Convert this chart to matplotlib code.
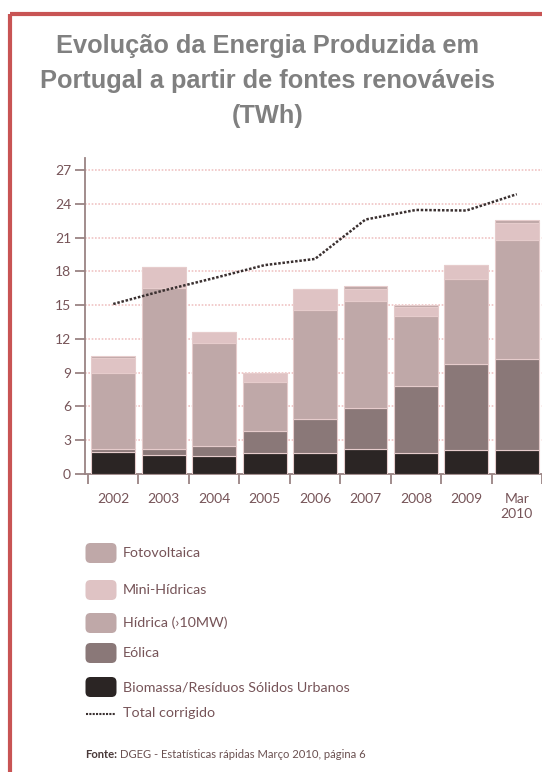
import matplotlib
matplotlib.use('Agg')
import matplotlib.pyplot as plt
import numpy as np
from matplotlib.patches import FancyBboxPatch, Rectangle

# data (TWh)
anos = ['2002', '2003', '2004', '2005', '2006', '2007', '2008', '2009', 'Mar\n2010']
biomassa = [1.95, 1.70, 1.60, 1.90, 1.90, 2.20, 1.90, 2.15, 2.15]
eolica = [0.25, 0.50, 0.90, 1.95, 3.00, 3.70, 5.90, 7.60, 8.05]
hidrica = [6.75, 14.35, 9.10, 4.30, 9.65, 9.45, 6.25, 7.55, 10.55]
mini_hidricas = [1.35, 1.80, 1.05, 0.80, 1.85, 1.05, 0.80, 1.25, 1.55]
fotovoltaica = [0.15, 0.00, 0.00, 0.00, 0.00, 0.30, 0.20, 0.05, 0.30]
total_corrigido = [15.1, 16.3, 17.4, 18.55, 19.1, 22.6, 23.45, 23.4, 24.85]
yticks = [0, 3, 6, 9, 12, 15, 18, 21, 24, 27]

cores = {
    'Fotovoltaica': '#bfa8a8',
    'Mini-Hídricas': '#dfc3c4',
    'Hídrica (>10MW)': '#bfa8a8',
    'Eólica': '#8a7878',
    'Biomassa/Resíduos Sólidos Urbanos': '#2b2524',
}
txt_color = '#765458'
axis_color = '#9a8484'

W, H = 542, 772
fig = plt.figure(figsize=(W / 100, H / 100), dpi=100)

# background layer in pixel coords (frame, legend, footer)
bg = fig.add_axes([0, 0, 1, 1])
bg.set_xlim(0, W)
bg.set_ylim(H, 0)
bg.axis('off')
bg.add_patch(Rectangle((10, 14), W + 20, H + 20, fill=False, ec='#c85454', lw=3))

# title
for i, t in enumerate(['Evolução da Energia Produzida em',
                       'Portugal a partir de fontes renováveis',
                       '(TWh)']):
    bg.text(268, 46 + 35 * i, t, ha='center', va='center', fontsize=18.3,
            fontweight='bold', color='#808080', family='Liberation Sans')

# chart
ax = fig.add_axes([85 / W, 298 / H, 1 - 85 / W, (614.4 - 298) / H])
x = np.arange(len(anos))
camadas = [('Biomassa/Resíduos Sólidos Urbanos', biomassa),
           ('Eólica', eolica),
           ('Hídrica (>10MW)', hidrica),
           ('Mini-Hídricas', mini_hidricas),
           ('Fotovoltaica', fotovoltaica)]
base = np.zeros(len(anos))
for nome, vals in camadas:
    ax.bar(x, vals, bottom=base, width=0.87, color=cores[nome],
           edgecolor='#e6cccc', linewidth=0.8, zorder=3)
    base += np.array(vals)

ax.plot(x, total_corrigido, color='#3a3030', lw=1.8, ls=(0, (1, 0.7)), zorder=4)

ax.set_ylim(0, 28.1)
ax.set_xlim(-0.56, 8.38)
ax.set_yticks(yticks)
for v in yticks[1:]:
    ax.axhline(v, color='#f0c4c4', lw=1.2, ls=(0, (1, 1)), zorder=1)

ax.set_xticks(x)
ax.set_xticklabels(anos, linespacing=1.25)
ax.set_xticks([-0.5] + list(x + 0.5), minor=True)
ax.tick_params(axis='x', which='major', length=0, pad=14, labelsize=10,
               labelcolor=txt_color)
ax.tick_params(axis='x', which='minor', length=7, width=1.3, color=axis_color,
               direction='out')
ax.tick_params(axis='y', length=7, width=1.3, color=axis_color,
               labelsize=10, labelcolor=txt_color, pad=3)
for lab in ax.get_xticklabels() + ax.get_yticklabels():
    lab.set_family('Lato')
for s in ['top', 'right']:
    ax.spines[s].set_visible(False)
for s in ['left', 'bottom']:
    ax.spines[s].set_color(axis_color)
    ax.spines[s].set_linewidth(1.3)

# legend
leg_y = [553, 590, 623, 653, 687]
leg_nomes = ['Fotovoltaica', 'Mini-Hídricas', 'Hídrica (>10MW)', 'Eólica',
             'Biomassa/Resíduos Sólidos Urbanos']
leg_txt = ['Fotovoltaica', 'Mini-Hídricas', 'Hídrica (›10MW)', 'Eólica',
           'Biomassa/Resíduos Sólidos Urbanos']
for yy, nome, t in zip(leg_y, leg_nomes, leg_txt):
    bg.add_patch(FancyBboxPatch((87, yy - 8.5), 28, 17,
                                boxstyle='round,pad=1.5,rounding_size=5',
                                fc=cores[nome], ec='none'))
    bg.text(123, yy, t, va='center', ha='left', fontsize=10.3,
            color=txt_color, family='Lato')
bg.plot([86, 115], [714, 714], color='#3a3030', lw=1.5, ls=(0, (1, 0.6)))
bg.text(123, 713, 'Total corrigido', va='center', ha='left', fontsize=10.3,
        color=txt_color, family='Lato')

bg.text(85, 755, 'Fonte:', va='center', ha='left', fontsize=8.1,
        fontweight='bold', color='#4a3a3a', family='Lato')
bg.text(120, 755, 'DGEG - Estatísticas rápidas Março 2010, página 6',
        va='center', ha='left', fontsize=8.1, color='#6a5050', family='Lato')

fig.savefig('out.png', dpi=100)
